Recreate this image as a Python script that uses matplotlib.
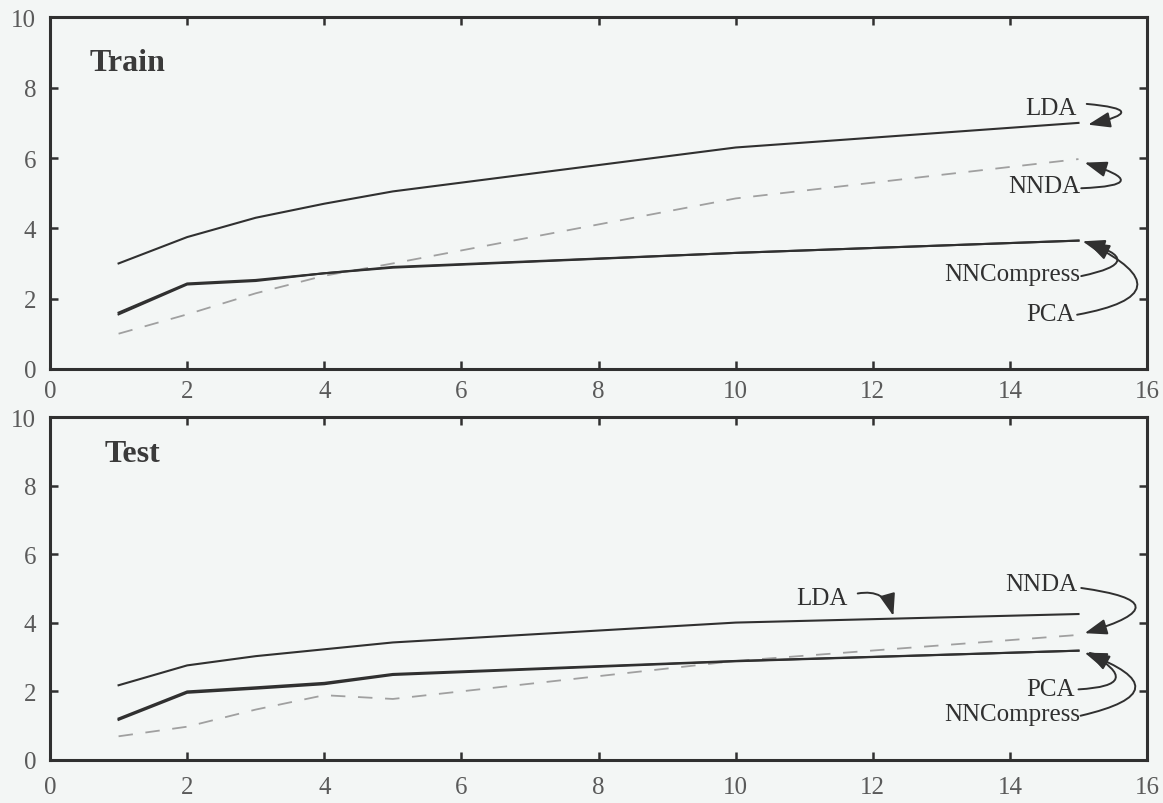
import numpy as np
import matplotlib
matplotlib.use("Agg")
import matplotlib.pyplot as plt

plt.rcParams["font.family"] = ["Liberation Serif", "DejaVu Serif"]

# Number of projected dimensions
dims = [1, 2, 3, 4, 5, 10, 15]

# Training-set curves
lda_train = [3.0, 3.75, 4.3, 4.7, 5.05, 6.3, 7.0]
nnda_train = [1.0, 1.55, 2.15, 2.65, 3.0, 4.85, 5.97]
pca_train = [1.55, 2.4, 2.5, 2.72, 2.88, 3.3, 3.65]
nncompress_train = [1.6, 2.43, 2.53, 2.72, 2.9, 3.3, 3.65]

# Test-set curves
lda_test = [2.17, 2.75, 3.02, 3.22, 3.42, 4.0, 4.25]
nnda_test = [0.68, 0.96, 1.46, 1.88, 1.77, 2.88, 3.64]
pca_test = [1.16, 1.95, 2.07, 2.2, 2.47, 2.87, 3.18]
nncompress_test = [1.2, 1.99, 2.11, 2.24, 2.5, 2.88, 3.18]

xticks = [0, 2, 4, 6, 8, 10, 12, 14, 16]
yticks = [0, 2, 4, 6, 8, 10]

BG = "#f3f6f5"
INK = "#303030"
TICK_INK = "#5a5a5a"
DASH = "#a0a0a0"

fig = plt.figure(figsize=(11.63, 8.04), dpi=100, facecolor=BG)
ax_train = fig.add_axes([0.0430, 0.5400, 0.9433, 0.4370])
ax_test = fig.add_axes([0.0430, 0.0540, 0.9433, 0.4260])


def style_axes(ax, xpad):
    ax.set_facecolor(BG)
    ax.set_xlim(0, 16)
    ax.set_ylim(0, 10)
    ax.set_xticks(xticks)
    ax.set_yticks(yticks)
    for s in ax.spines.values():
        s.set_linewidth(2.2)
        s.set_color(INK)
    ax.tick_params(direction="in", length=6, width=1.8, color=INK,
                   top=True, right=True, labelsize=18, labelcolor=TICK_INK)
    ax.tick_params(axis="x", pad=xpad)
    ax.tick_params(axis="y", pad=10)


def draw_curves(ax, lda, nnda, pca, nnc):
    ax.plot(dims, nnda, color=DASH, lw=1.3, dashes=(8, 7))
    ax.plot(dims, pca, color=INK, lw=1.5)
    ax.plot(dims, nnc, color=INK, lw=1.5)
    ax.plot(dims, lda, color=INK, lw=1.5)


def label_arrow(ax, text, tx, ty, start, tip, rad, ha="right"):
    ax.text(tx, ty, text, ha=ha, va="baseline", fontsize=18, color=INK)
    ax.annotate("", xy=tip, xytext=start,
                arrowprops=dict(arrowstyle="-|>,head_length=0.9,head_width=0.32",
                                mutation_scale=15, color=INK, lw=1.4,
                                shrinkA=0, shrinkB=0,
                                connectionstyle=f"arc3,rad={rad}"))


style_axes(ax_train, 8)
style_axes(ax_test, 12)

# Training panel
draw_curves(ax_train, lda_train, nnda_train, pca_train, nncompress_train)
ax_train.text(0.036, 0.85, "Train", transform=ax_train.transAxes,
              fontsize=23, fontweight="bold", color="#3a3a3a", va="baseline")
xe = dims[-1]
label_arrow(ax_train, "LDA", 14.97, 7.25, (15.12, 7.54),
            (xe + 0.14, lda_train[-1] - 0.05), -3.2)
label_arrow(ax_train, "NNDA", 15.02, 5.04, (15.04, 5.14),
            (xe + 0.09, nnda_train[-1] - 0.1), 2.9)
label_arrow(ax_train, "NNCompress", 15.02, 2.54, (15.04, 2.64),
            (xe + 0.06, pca_train[-1] - 0.02), 2.0)
label_arrow(ax_train, "PCA", 14.95, 1.39, (14.98, 1.54),
            (xe + 0.13, pca_train[-1] - 0.05), 1.5)

# Test panel
draw_curves(ax_test, lda_test, nnda_test, pca_test, nncompress_test)
ax_test.text(0.05, 0.872, "Test", transform=ax_test.transAxes,
             fontsize=23, fontweight="bold", color="#3a3a3a", va="baseline")
label_arrow(ax_test, "NNDA", 14.99, 4.95, (15.04, 5.01),
            (xe + 0.09, nnda_test[-1] + 0.05), -2.3)
label_arrow(ax_test, "PCA", 14.95, 1.90, (15.0, 2.05),
            (xe + 0.13, pca_test[-1] - 0.03), 1.7)
label_arrow(ax_test, "NNCompress", 15.02, 1.16, (15.03, 1.28),
            (xe + 0.09, pca_test[-1] - 0.06), 1.65)
lda_tip_x = 12.3
label_arrow(ax_test, "LDA", 10.88, 4.55, (11.78, 4.85),
            (lda_tip_x, float(np.interp(lda_tip_x, dims, lda_test)) + 0.08),
            -0.45, ha="left")

fig.savefig("out.png", dpi=100, facecolor=BG)
